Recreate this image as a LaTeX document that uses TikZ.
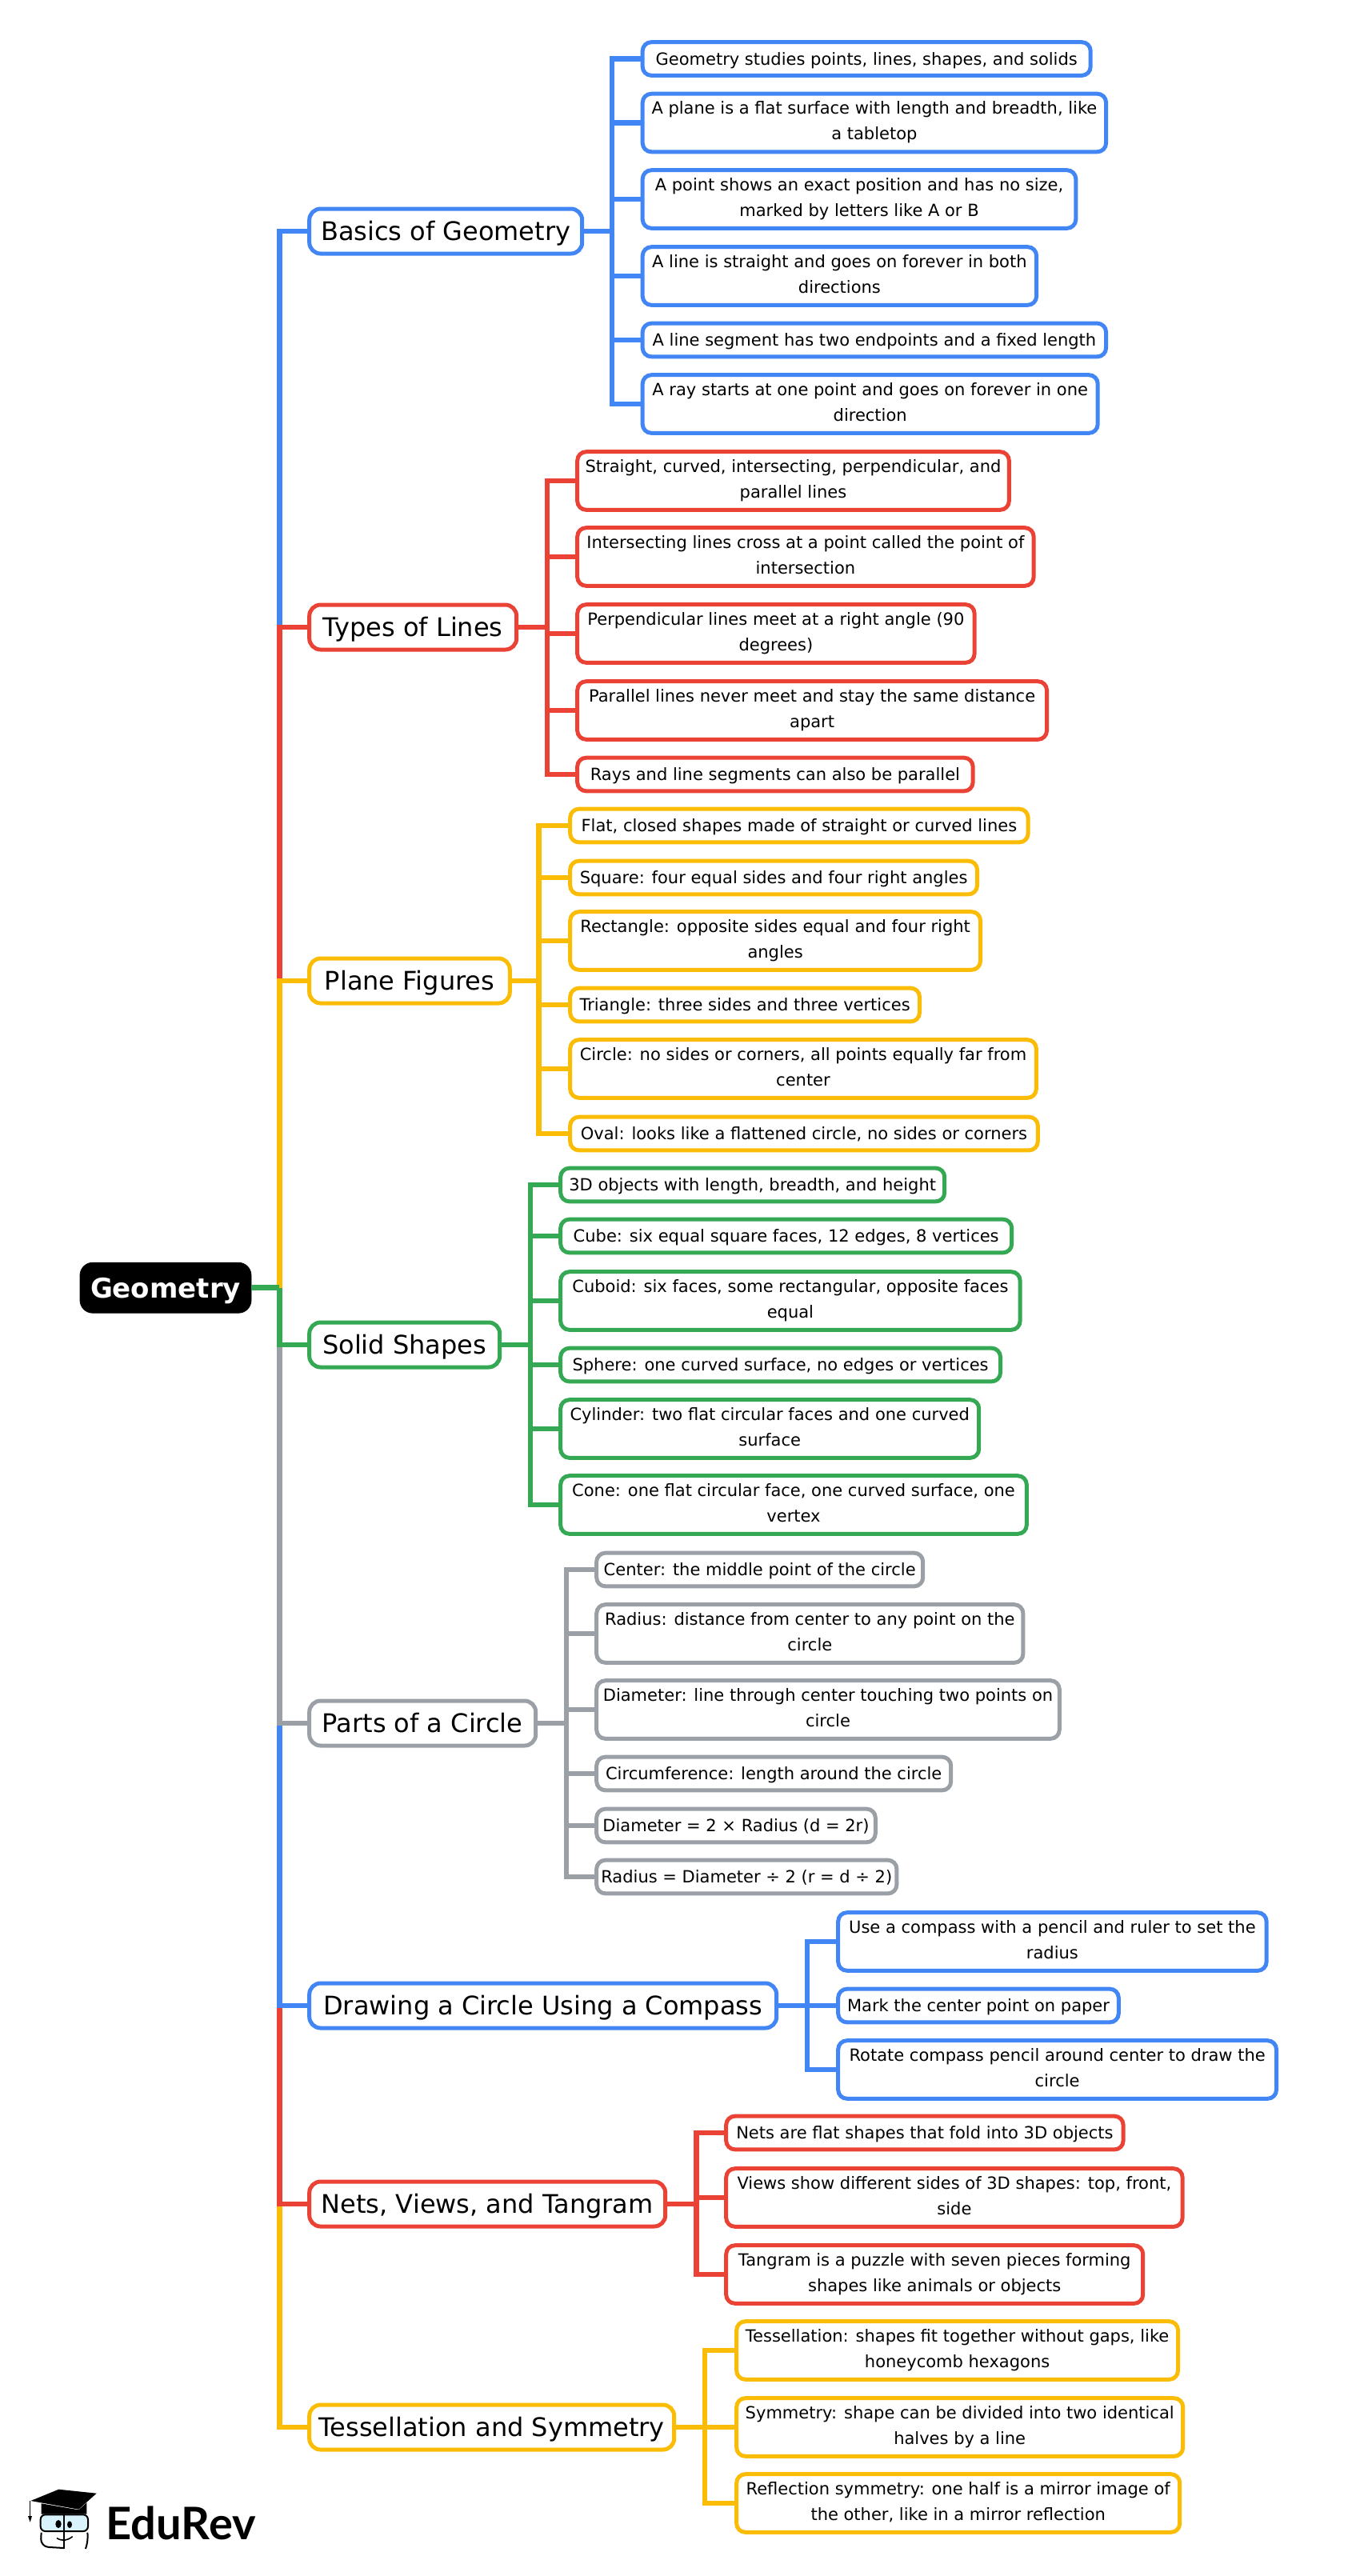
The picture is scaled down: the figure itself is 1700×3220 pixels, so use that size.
\documentclass[tikz,border=0pt]{standalone}
\usepackage{fontspec}
\setmainfont{DejaVu Sans}
\newfontfamily\logofont{Lato}
\definecolor{gblue}{HTML}{4285F4}
\definecolor{gred}{HTML}{EA4335}
\definecolor{gyellow}{HTML}{FBBC05}
\definecolor{ggreen}{HTML}{34A853}
\definecolor{ggrey}{HTML}{9AA0A6}
\begin{document}
\begin{tikzpicture}[x=0.5pt, y=-0.5pt,
    leaf/.style = {draw=#1, fill=white, line width=2.5pt, rounded corners=5.5pt, anchor=west, outer sep=0pt, inner sep=0pt, align=center, font=\fontsize{10.5}{16}\selectfont, execute at begin node={\rule{0pt}{10.4pt}}, execute at end node={\rule[-2.6pt]{0pt}{2.6pt}}},
    one/.style = {minimum height=20.85pt},
    two/.style = {minimum height=36.3pt, execute at begin node={\rule{0pt}{11.9pt}}},
    branch/.style = {draw=#1, fill=white, line width=2.5pt, rounded corners=7pt, anchor=west, outer sep=0pt, inner sep=0pt, minimum height=28pt, text height=15pt, text depth=4pt, font=\fontsize{16}{20}\selectfont},
    wire/.style = {draw=#1, line width=3.25pt}]
    \useasboundingbox (0,0) rectangle (1700,3220);

    \node[draw=black, fill=black, text=white, rounded corners=8pt, outer sep=0pt, inner sep=0pt, minimum width=107pt, minimum height=31.5pt, text height=16pt, text depth=3.4pt, font=\fontsize{17}{20}\selectfont\bfseries] (root) at (207,1609.7) {Geometry};
    \coordinate (hub) at (349.3,1609.7);

    \node[branch=gblue, minimum width=170.5pt] (basics) at (386.7,289) {Basics of Geometry};
    \node[branch=gred, minimum width=129.5pt] (types) at (386.7,784) {Types of Lines};
    \node[branch=gyellow, minimum width=125.3pt] (plane) at (386.7,1226) {Plane Figures};
    \node[branch=ggreen, minimum width=119pt] (solid) at (386.7,1681) {Solid Shapes};
    \node[branch=ggrey, minimum width=141.5pt] (parts) at (386.7,2154) {Parts of a Circle};
    \node[branch=gblue, minimum width=292pt] (drawing) at (386.7,2507) {Drawing a Circle Using a Compass};
    \node[branch=gred, minimum width=222.5pt] (nets) at (386.7,2755) {Nets, Views, and Tangram};
    \node[branch=gyellow, minimum width=228pt] (tess) at (386.7,3034) {Tessellation and Symmetry};

    \node[leaf=gblue, one, minimum width=280pt] (b1) at (803.2,73.5) {Geometry studies points, lines, shapes, and solids};
    \node[leaf=gblue, two, minimum width=289.7pt] (b2) at (803.2,153.5) {A plane is a flat surface with length and breadth, like\\a tabletop};
    \node[leaf=gblue, two, minimum width=270.8pt] (b3) at (803.2,249) {A point shows an exact position and has no size,\\marked by letters like A or B};
    \node[leaf=gblue, two, minimum width=246.2pt] (b4) at (803.2,345) {A line is straight and goes on forever in both\\directions};
    \node[leaf=gblue, one, minimum width=289.7pt] (b5) at (803.2,425) {A line segment has two endpoints and a fixed length};
    \node[leaf=gblue, two, minimum width=284.5pt] (b6) at (803.2,505) {A ray starts at one point and goes on forever in one\\direction};

    \node[leaf=gred, two, minimum width=269.8pt] (t1) at (721.7,601) {Straight, curved, intersecting, perpendicular, and\\parallel lines};
    \node[leaf=gred, two, minimum width=285.2pt] (t2) at (721.7,696) {Intersecting lines cross at a point called the point of\\intersection};
    \node[leaf=gred, two, minimum width=248.2pt] (t3) at (721.7,792) {Perpendicular lines meet at a right angle (90\\degrees)};
    \node[leaf=gred, two, minimum width=293.4pt] (t4) at (721.7,888) {Parallel lines never meet and stay the same distance\\apart};
    \node[leaf=gred, one, minimum width=247.2pt] (t5) at (721.7,968) {Rays and line segments can also be parallel};

    \node[leaf=gyellow, one, minimum width=286.2pt] (p1) at (712.7,1032) {Flat, closed shapes made of straight or curved lines};
    \node[leaf=gyellow, one, minimum width=254.4pt] (p2) at (712.7,1097) {Square: four equal sides and four right angles};
    \node[leaf=gyellow, two, minimum width=256.4pt] (p3) at (712.7,1176) {Rectangle: opposite sides equal and four right\\angles};
    \node[leaf=gyellow, one, minimum width=218.4pt] (p4) at (712.7,1256) {Triangle: three sides and three vertices};
    \node[leaf=gyellow, two, minimum width=291.3pt] (p5) at (712.7,1336) {Circle: no sides or corners, all points equally far from\\center};
    \node[leaf=gyellow, one, minimum width=292.3pt] (p6) at (712.7,1417) {Oval: looks like a flattened circle, no sides or corners};

    \node[leaf=ggreen, one, minimum width=240pt] (s1) at (700.7,1481) {3D objects with length, breadth, and height};
    \node[leaf=ggreen, one, minimum width=282pt] (s2) at (700.7,1545) {Cube: six equal square faces, 12 edges, 8 vertices};
    \node[leaf=ggreen, two, minimum width=287.2pt] (s3) at (700.7,1626) {Cuboid: six faces, some rectangular, opposite faces\\equal};
    \node[leaf=ggreen, one, minimum width=274.9pt] (s4) at (700.7,1706) {Sphere: one curved surface, no edges or vertices};
    \node[leaf=ggreen, two, minimum width=261.5pt] (s5) at (700.7,1786) {Cylinder: two flat circular faces and one curved\\surface};
    \node[leaf=ggreen, two, minimum width=291.3pt] (s6) at (700.7,1881) {Cone: one flat circular face, one curved surface, one\\vertex};

    \node[leaf=ggrey, one, minimum width=204pt] (c1) at (745.7,1962) {Center: the middle point of the circle};
    \node[leaf=ggrey, two, minimum width=266.6pt] (c2) at (745.7,2042) {Radius: distance from center to any point on the\\circle};
    \node[leaf=ggrey, two, minimum width=289.3pt] (c3) at (745.7,2137) {Diameter: line through center touching two points on\\circle};
    \node[leaf=ggrey, one, minimum width=221.5pt] (c4) at (745.7,2217) {Circumference: length around the circle};
    \node[leaf=ggrey, one, minimum width=174.3pt] (c5) at (745.7,2282) {Diameter = 2 × Radius (d = 2r)};
    \node[leaf=ggrey, one, minimum width=187.6pt] (c6) at (745.7,2346) {Radius = Diameter ÷ 2 (r = d ÷ 2)};

    \node[leaf=gblue, two, minimum width=267.7pt] (d1) at (1047.7,2427) {Use a compass with a pencil and ruler to set the\\radius};
    \node[leaf=gblue, one, minimum width=175.3pt] (d2) at (1047.7,2507) {Mark the center point on paper};
    \node[leaf=gblue, two, minimum width=273.9pt] (d3) at (1047.7,2587) {Rotate compass pencil around center to draw the\\circle};

    \node[leaf=gred, one, minimum width=248.2pt] (n1) at (907.7,2666) {Nets are flat shapes that fold into 3D objects};
    \node[leaf=gred, two, minimum width=285.2pt] (n2) at (907.7,2747) {Views show different sides of 3D shapes: top, front,\\side};
    \node[leaf=gred, two, minimum width=260.5pt] (n3) at (907.7,2843) {Tangram is a puzzle with seven pieces forming\\shapes like animals or objects};

    \node[leaf=gyellow, two, minimum width=275.9pt] (e1) at (920.7,2938) {Tessellation: shapes fit together without gaps, like\\honeycomb hexagons};
    \node[leaf=gyellow, two, minimum width=279pt] (e2) at (920.7,3034) {Symmetry: shape can be divided into two identical\\halves by a line};
    \node[leaf=gyellow, two, minimum width=277pt] (e3) at (920.7,3129) {Reflection symmetry: one half is a mirror image of\\the other, like in a mirror reflection};

    \coordinate (bhub) at (765,289);
    \coordinate (thub) at (684,784);
    \coordinate (phub) at (673.5,1226);
    \coordinate (shub) at (663,1681);
    \coordinate (chub) at (708,2154);
    \coordinate (dhub) at (1009,2507);
    \coordinate (nhub) at (870.5,2755);
    \coordinate (ehub) at (881,3034);

    \draw[wire=gblue] (hub) |- (basics.west);
    \draw[wire=gred] (hub) |- (types.west);
    \draw[wire=gyellow] (hub) |- (plane.west);

    \draw[wire=gyellow] (hub) |- (tess.west);
    \draw[wire=gred] (hub) |- (nets.west);
    \draw[wire=gblue] (hub) |- (drawing.west);
    \draw[wire=ggrey] (hub) |- (parts.west);
    \draw[wire=ggreen] (hub) |- (solid.west);
    \draw[wire=ggreen] (root.east) -- (hub);

    \draw[wire=gblue] (basics.east) -- (bhub);
    \draw[wire=gblue] (bhub) |- (b1.west);
    \draw[wire=gblue] (bhub) |- (b2.west);
    \draw[wire=gblue] (bhub) |- (b3.west);
    \draw[wire=gblue] (bhub) |- (b4.west);
    \draw[wire=gblue] (bhub) |- (b5.west);
    \draw[wire=gblue] (bhub) |- (b6.west);

    \draw[wire=gred] (types.east) -- (thub);
    \draw[wire=gred] (thub) |- (t1.west);
    \draw[wire=gred] (thub) |- (t2.west);
    \draw[wire=gred] (thub) |- (t3.west);
    \draw[wire=gred] (thub) |- (t4.west);
    \draw[wire=gred] (thub) |- (t5.west);

    \draw[wire=gyellow] (plane.east) -- (phub);
    \draw[wire=gyellow] (phub) |- (p1.west);
    \draw[wire=gyellow] (phub) |- (p2.west);
    \draw[wire=gyellow] (phub) |- (p3.west);
    \draw[wire=gyellow] (phub) |- (p4.west);
    \draw[wire=gyellow] (phub) |- (p5.west);
    \draw[wire=gyellow] (phub) |- (p6.west);

    \draw[wire=ggreen] (solid.east) -- (shub);
    \draw[wire=ggreen] (shub) |- (s1.west);
    \draw[wire=ggreen] (shub) |- (s2.west);
    \draw[wire=ggreen] (shub) |- (s3.west);
    \draw[wire=ggreen] (shub) |- (s4.west);
    \draw[wire=ggreen] (shub) |- (s5.west);
    \draw[wire=ggreen] (shub) |- (s6.west);

    \draw[wire=ggrey] (parts.east) -- (chub);
    \draw[wire=ggrey] (chub) |- (c1.west);
    \draw[wire=ggrey] (chub) |- (c2.west);
    \draw[wire=ggrey] (chub) |- (c3.west);
    \draw[wire=ggrey] (chub) |- (c4.west);
    \draw[wire=ggrey] (chub) |- (c5.west);
    \draw[wire=ggrey] (chub) |- (c6.west);

    \draw[wire=gblue] (drawing.east) -- (dhub);
    \draw[wire=gblue] (dhub) |- (d1.west);
    \draw[wire=gblue] (dhub) |- (d2.west);
    \draw[wire=gblue] (dhub) |- (d3.west);

    \draw[wire=gred] (nets.east) -- (nhub);
    \draw[wire=gred] (nhub) |- (n1.west);
    \draw[wire=gred] (nhub) |- (n2.west);
    \draw[wire=gred] (nhub) |- (n3.west);

    \draw[wire=gyellow] (tess.east) -- (ehub);
    \draw[wire=gyellow] (ehub) |- (e1.west);
    \draw[wire=gyellow] (ehub) |- (e2.west);
    \draw[wire=gyellow] (ehub) |- (e3.west);

    % logo, in zoomed units
    \begin{scope}[shift={(0,3000)}, x=0.16667pt, y=-0.16667pt]
        \fill[black] (115,378) -- (220,335) -- (362,350) -- (295,410) -- cycle;
        \fill[black] (155,388) -- (295,412) -- (325,385) -- (325,428) -- (155,428) -- cycle;
        \draw[black, line width=0.6pt] (113,378) -- (113,435);
        \fill[black] (105,435) -- (120,435) -- (113,458) -- cycle;
        \draw[black, line width=1pt, fill=cyan!15, rounded corners=3pt] (152,430) rectangle (330,492);
        \draw[black, line width=1pt, rounded corners=5pt] (155,497) -- (152,550) -- (240,555);
        \draw[black, line width=1pt, rounded corners=5pt] (328,497) -- (332,530) -- (322,555);
        \draw[black, line width=1pt] (240,425) -- (240,558);
        \fill[black] (219,465) ellipse (11 and 15);
        \fill[black] (261,467) ellipse (9 and 13);
        \draw[black, line width=0.8pt] (213,518) .. controls (235,530) and (250,528) .. (272,512);
        \node[anchor=base west, inner sep=0pt, outer sep=0pt, font=\logofont\fontsize{28}{30}\selectfont\bfseries] (brand) at (398,522) {EduRev};
    \end{scope}
\end{tikzpicture}
\end{document}
